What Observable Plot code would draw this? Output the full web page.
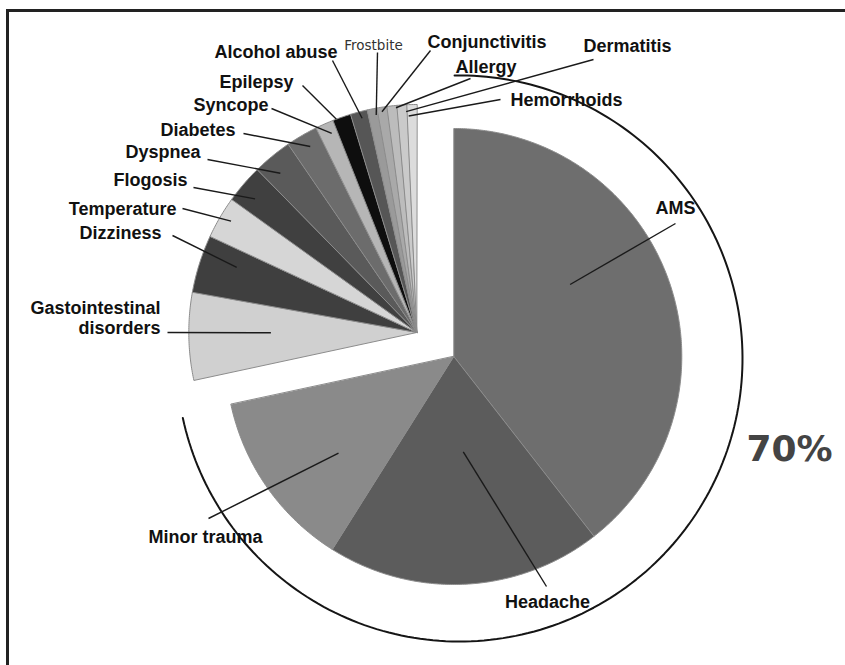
<!DOCTYPE html>
<html><head><meta charset="utf-8">
<script src="https://cdn.jsdelivr.net/npm/d3@7"></script>
<script src="https://cdn.jsdelivr.net/npm/@observablehq/plot@0.6"></script>
<style>html,body{margin:0;padding:0;background:#fff;overflow:hidden}</style>
</head><body><div id="chart"></div>
<script>
// ---- data ----
const categories = ["AMS","Headache","Minor trauma","Gastointestinal disorders","Dizziness","Temperature","Flogosis","Dyspnea","Diabetes","Syncope","Epilepsy","Alcohol abuse","Frostbite","Conjunctivitis","Allergy","Dermatitis","Hemorrhoids"];
const shares = [39.5, 19.5, 12.7, 6.2, 4.1, 3.0, 2.75, 2.8, 2.25, 1.3, 1.3, 1.2, 0.7, 0.7, 0.7, 0.7, 0.7];
const groupLabel = "70%";
const mainCount = 3; // first three slices form the 70% block; the rest are pulled out together

// ---- style ----
const sliceColors = ["#6e6e6e","#5c5c5c","#8a8a8a","#d0d0d0","#3f3f3f","#d6d6d6","#404040","#5a5a5a","#6c6c6c","#b6b6b6","#0e0e0e","#565656","#9a9a9a","#a9a9a9","#bcbcbc","#cacaca","#dcdcdc"];

// ---- layout ----
const W = 845, H = 665;
const cx = 453.3, cy = 356, R = 228;
const groupShift = {dx: -37, dy: -24};
const arcLayout = {cx: 459, cy: 358, r: 283};
// label placement: text baseline (tx,ty), anchor, leader outer end (lx,ly), leader inner point (t along slice, fraction of radius)
const labelLayout = [
  {tx:675, ty:213, anchor:"middle", lx:675, ly:223, t:0.41, f:0.60},
  {tx:547, ty:607, anchor:"middle", lx:546, ly:586, t:0.46, f:0.42},
  {tx:262, ty:542, anchor:"end",    lx:208, ly:518, t:0.39, f:0.66},
  {tx:160, ty:313, anchor:"end",    lx:167, ly:332, t:0.54, f:0.64},
  {tx:161, ty:238, anchor:"end",    lx:172, ly:235, t:0.66, f:0.84},
  {tx:176, ty:214, anchor:"end",    lx:182, ly:208, t:0.56, f:0.95},
  {tx:187, ty:185, anchor:"end",    lx:193, ly:187, t:0.39, f:0.92},
  {tx:200, ty:157, anchor:"end",    lx:207, ly:159, t:0.38, f:0.92},
  {tx:235, ty:135, anchor:"end",    lx:243, ly:133, t:0.56, f:0.94},
  {tx:268, ty:110, anchor:"end",    lx:271, ly:108, t:0.67, f:0.95},
  {tx:293, ty:87,  anchor:"end",    lx:302, ly:85,  t:0.20, f:1.00},
  {tx:337, ty:57,  anchor:"end",    lx:332, ly:60,  t:0.60, f:0.97},
  {tx:373, ty:49,  anchor:"middle", lx:377, ly:52,  t:0.80, f:0.97, small:true},
  {tx:427, ty:47,  anchor:"start",  lx:430, ly:50,  t:0.44, f:0.98},
  {tx:455, ty:72,  anchor:"start",  lx:470, ly:78,  t:0.90, f:0.99},
  {tx:583, ty:51,  anchor:"start",  lx:593, ly:59,  t:0.90, f:0.97},
  {tx:510, ty:105, anchor:"start",  lx:500, ly:99,  t:0.15, f:0.95}
];
const pctLabel = {tx:746, ty:460};

// ---- geometry from values ----
const total = d3.sum(shares);
let acc = 0;
const slices = categories.map((name, i) => {
  const a0 = acc / total * 360; acc += shares[i];
  const a1 = acc / total * 360;
  const grouped = i >= mainCount;
  return {name, i, a0, a1, ox: cx + (grouped ? groupShift.dx : 0), oy: cy + (grouped ? groupShift.dy : 0)};
});
const rad = a => a * Math.PI / 180;
const pt = (ox, oy, r, a) => ({x: ox + r * Math.sin(rad(a)), y: oy - r * Math.cos(rad(a))});

function slicePoly(s) {
  const pts = [{x: s.ox, y: s.oy}];
  const n = Math.max(2, Math.ceil((s.a1 - s.a0) / 0.5));
  for (let k = 0; k <= n; k++) pts.push(pt(s.ox, s.oy, R, s.a0 + (s.a1 - s.a0) * k / n));
  return pts;
}

const sliceMarks = slices.map(s => Plot.line(slicePoly(s), {
  x: "x", y: "y", curve: "linear-closed", fill: sliceColors[s.i], stroke: "#8c8c8c", strokeWidth: 1
}));

// 70% arc spanning the main block
const endMain = slices[mainCount - 1].a1;
const arcPts = d3.range(0, 201).map(k => pt(arcLayout.cx, arcLayout.cy, arcLayout.r, -1 + (endMain + 1) * k / 200));

const leaders = slices.map((s, i) => {
  const L = labelLayout[i];
  const p = pt(s.ox, s.oy, R * L.f, s.a0 + (s.a1 - s.a0) * L.t);
  return {x1: p.x, y1: p.y, x2: L.lx, y2: L.ly};
});

const FS = 18;
const LH = 20;
const labels = slices.map((s, i) => {
  const L = labelLayout[i];
  const text = s.name === "Gastointestinal disorders" ? "Gastointestinal\ndisorders" : s.name;
  const fs = L.small ? 13.5 : FS;
  const lines = text.split("\n").length;
  const y = lines > 1 ? L.ty - 0.32 * fs + LH / 2 : L.ty - 0.32 * fs;
  return {text, x: L.tx, y, anchor: L.anchor, small: !!L.small};
});

const textMarks = [];
for (const anchor of ["start", "middle", "end"]) {
  textMarks.push(Plot.text(labels.filter(d => d.anchor === anchor && !d.small), {
    x: "x", y: "y", text: "text", textAnchor: anchor, fontSize: FS, fontWeight: "bold",
    fontFamily: "Liberation Sans, Arial, sans-serif", fill: "#111", lineHeight: LH / FS
  }));
}
textMarks.push(Plot.text(labels.filter(d => d.small), {
  x: "x", y: "y", text: "text", textAnchor: "middle", fontSize: 13.5,
  fontFamily: "DejaVu Sans, sans-serif", fill: "#333"
}));

const chart = Plot.plot({
  width: W, height: H,
  marginLeft: 7, marginTop: 10, marginRight: 0, marginBottom: 0,
  x: {domain: [7, W], range: [7, W], axis: null},
  y: {domain: [10, H], range: [10, H], axis: null},
  style: {background: "#fff", overflow: "visible"},
  marks: [
    Plot.frame({anchor: "top", stroke: "#222", strokeWidth: 3}),
    Plot.frame({anchor: "left", stroke: "#222", strokeWidth: 3}),
    ...sliceMarks,
    Plot.line(arcPts, {x: "x", y: "y", stroke: "#151515", strokeWidth: 2}),
    Plot.link(leaders, {x1: "x1", y1: "y1", x2: "x2", y2: "y2", stroke: "#1a1a1a", strokeWidth: 1.4}),
    ...textMarks,
    Plot.text([groupLabel], {x: () => pctLabel.tx, y: () => pctLabel.ty - 0.32 * 36, text: d => d, textAnchor: "start",
      fontSize: 36, fontWeight: "bold", fontFamily: "DejaVu Sans, sans-serif", fill: "#444"})
  ]
});
document.getElementById("chart").appendChild(chart);
</script>
</body></html>
